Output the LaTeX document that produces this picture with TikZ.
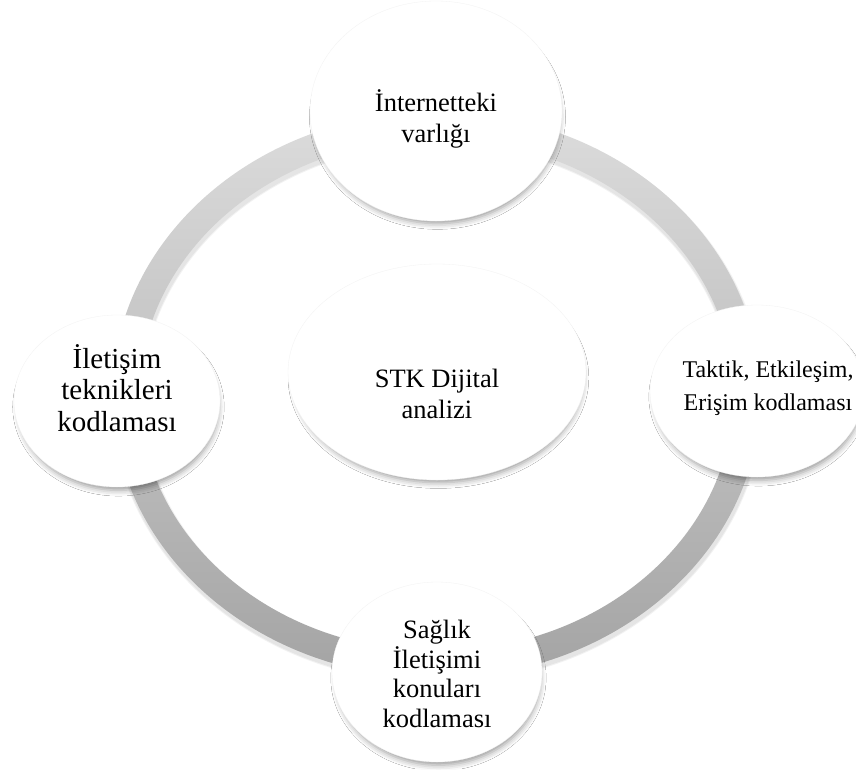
\documentclass[tikz,border=0pt]{standalone}
\usepackage{fontspec}
\setmainfont{Liberation Serif}
\usetikzlibrary{shapes.geometric,shadows.blur}

\definecolor{ringtop}{HTML}{DCDCDC}
\definecolor{ringbot}{HTML}{A4A4A4}
\definecolor{rimgray}{HTML}{F2F2F2}

\tikzset{
  bubble/.style={ellipse, fill=white, draw=rimgray, line width=0.3pt, inner sep=0pt,
    blur shadow={shadow xshift=1.5pt, shadow yshift=-6pt, shadow scale=0.97,
      shadow blur radius=6pt, shadow opacity=40}},
  caption/.style={align=center, text=black, inner sep=0pt},
  big/.style={font=\fontsize{26.5}{31}\selectfont},
  small/.style={font=\fontsize{24}{33}\selectfont},
}

\begin{document}
\begin{tikzpicture}[x=1pt,y=-1pt]
\useasboundingbox (0,0) rectangle (856,769);
\fill[white] (0,0) rectangle (856,769);

% soft shadow under the ring
\foreach \w in {31,29}
  \draw[black, opacity=0.05, line width=\w pt]
    (437.5,398.5) ellipse [x radius=310.5pt, y radius=269.5pt];

% the ring itself, shaded from light at the top to darker at the bottom
\shade[top color=ringtop, bottom color=ringbot, even odd rule]
  (436.5,395) ellipse [x radius=324pt, y radius=283pt]
  (436.5,395) ellipse [x radius=297pt, y radius=256pt];

% the five bubbles
\node[bubble, minimum width=252pt, minimum height=220pt] (top)    at (436,111) {};
\node[bubble, minimum width=298pt, minimum height=216pt] (centre) at (437,372) {};
\node[bubble, minimum width=206pt, minimum height=172pt] (left)   at (117,401) {};
\node[bubble, minimum width=214pt, minimum height=172pt] (right)  at (757,391) {};
\node[bubble, minimum width=210pt, minimum height=180pt] (bottom) at (437,672) {};

% their captions
\node[caption, big]   (toptext)    at ([yshift=-8pt]top.center)    {İnternetteki\\varlığı};
\node[caption, big]   (centretext) at ([yshift=-22pt]centre.center) {STK Dijital\\analizi};
\node[caption, font=\fontsize{29}{31.5}\selectfont] (lefttext) at ([yshift=13pt]left.center)
  {İletişim\\teknikleri\\kodlaması};
\node[caption, small] (righttext)  at ([xshift=11pt,yshift=3pt]right.center) {Taktik, Etkileşim,\\Erişim kodlaması};
\node[caption, font=\fontsize{26.5}{29.5}\selectfont] (bottomtext) at ([yshift=-2pt]bottom.center)
  {Sağlık\\İletişimi\\konuları\\kodlaması};
\end{tikzpicture}
\end{document}
